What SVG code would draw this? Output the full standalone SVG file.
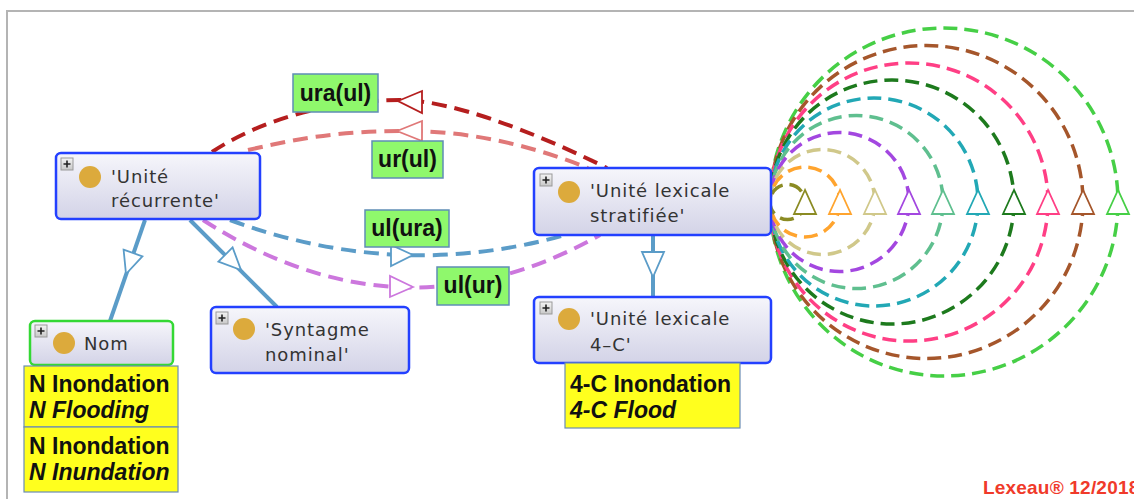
<svg xmlns="http://www.w3.org/2000/svg" width="1134" height="499" viewBox="0 0 1134 499">
<defs>
<linearGradient id="ng" x1="0" y1="0" x2="0" y2="1">
<stop offset="0" stop-color="#f6f6fb"/>
<stop offset="1" stop-color="#d3d3e7"/>
</linearGradient>
<linearGradient id="pg" x1="0" y1="0" x2="0" y2="1">
<stop offset="0" stop-color="#f4f4f4"/>
<stop offset="1" stop-color="#c8c8c8"/>
</linearGradient>
<g id="plus">
<rect x="0" y="0" width="12" height="12" fill="url(#pg)" stroke="#9a9a9a" stroke-width="1"/>
<path d="M2.5 6H9.5M6 2.5V9.5" stroke="#222" stroke-width="1.6"/>
</g>
</defs>
<style>
.frame{stroke:#b4b4b4;stroke-width:2;fill:none}
.node{fill:url(#ng);stroke:#2340ff;stroke-width:2.5}
.nodeg{fill:url(#ng);stroke:#34d834;stroke-width:2.5}
.dot{fill:#dcaa3c}
.nt{font-family:"DejaVu Sans",sans-serif;font-size:18px;letter-spacing:0.9px;fill:#333}
.lab{fill:#8ff86c;stroke:#5f8db5;stroke-width:1.5}
.lt{font-family:"Liberation Sans",Arial,sans-serif;font-size:23px;font-weight:bold;fill:#111;text-anchor:middle}
.yb{fill:#ffff1e;stroke:#6b8db4;stroke-width:1.2}
.yt{font-family:"Liberation Sans",Arial,sans-serif;font-size:23px;font-weight:bold;fill:#111}
.it{font-style:italic}
.inh{stroke:#5b9cc8;stroke-width:4;fill:none}
.inha{stroke:#5b9cc8;stroke-width:1.8;fill:#fff}
.d{fill:none;stroke-width:4;stroke-dasharray:15 8}
.c{fill:none;stroke-width:3.5;stroke-dasharray:14 7}
.ah{fill:#fff;stroke-width:1.8}
.copy{font-family:"Liberation Sans",Arial,sans-serif;font-size:19px;letter-spacing:0.2px;font-weight:bold;fill:#f03a2a}
</style>
<rect width="1134" height="499" fill="#fff"/>
<path class="frame" d="M7 499V11H1134"/>

<g id="connectors">
<circle class="c" cx="944" cy="202" r="174" stroke="#46cf46"/>
<circle class="c" cx="926.5" cy="202" r="156.5" stroke="#a5562b"/>
<circle class="c" cx="909" cy="202" r="139" stroke="#ff3f85"/>
<circle class="c" cx="892" cy="202" r="122" stroke="#1d7a1d"/>
<circle class="c" cx="874" cy="202" r="104" stroke="#22a8b5"/>
<circle class="c" cx="856.5" cy="202" r="86.5" stroke="#5fbf8f"/>
<circle class="c" cx="839.5" cy="202" r="69.5" stroke="#a347e0"/>
<circle class="c" cx="822.5" cy="202" r="52.5" stroke="#d0c88a"/>
<circle class="c" cx="805" cy="202" r="35" stroke="#ffa42e"/>
<circle class="c" cx="787.5" cy="202" r="17.5" stroke="#8b8b23"/>
<polygon class="ah" points="1118,190 1107,214 1129,214" stroke="#46cf46"/>
<polygon class="ah" points="1083,190 1072,214 1094,214" stroke="#a5562b"/>
<polygon class="ah" points="1048,190 1037,214 1059,214" stroke="#ff3f85"/>
<polygon class="ah" points="1014,190 1003,214 1025,214" stroke="#1d7a1d"/>
<polygon class="ah" points="978,190 967,214 989,214" stroke="#22a8b5"/>
<polygon class="ah" points="943,190 932,214 954,214" stroke="#5fbf8f"/>
<polygon class="ah" points="909,190 898,214 920,214" stroke="#a347e0"/>
<polygon class="ah" points="875,190 864,214 886,214" stroke="#d0c88a"/>
<polygon class="ah" points="840,190 829,214 851,214" stroke="#ffa42e"/>
<polygon class="ah" points="805,190 794,214 816,214" stroke="#8b8b23"/>

<path class="d" d="M212 152C260 120 330 100 400 100C450 100 530 130 607 168" stroke="#b51e1e"/>
<path class="d" d="M248 150C300 138 340 131 405 131C470 131 530 145 588 168" stroke="#e07878" stroke-width="3.5"/>
<path class="d" d="M230 220Q398 282 565 235" stroke="#5b9cc8" stroke-width="3.5"/>
<path class="d" d="M203 220Q401 347 600 235" stroke="#cc77dd" stroke-width="3.5"/>
<polygon class="ah" points="398,101 422,91 422,113" stroke="#b51e1e"/>
<polygon class="ah" points="397,131 422,121 422,141" stroke="#e07878"/>
<polygon class="ah" points="413,255 391,245 391,266" stroke="#5b9cc8"/>
<polygon class="ah" points="413,287 390,276 390,297" stroke="#cc77dd"/>

<path class="inh" d="M145 220L110 321"/>
<polygon class="inha" points="123.6,249.7 142.4,256.3 126,274"/>
<path class="inh" d="M190 220L277 307"/>
<polygon class="inha" points="232.6,247.4 218.4,261.6 241,270"/>
<path class="inh" d="M653 235V297"/>
<polygon class="inha" points="642,252 664,252 653,277"/>
</g>

<g id="n-unite-recurrente">
<rect class="node" x="56" y="153" width="204" height="66" rx="5"/>
<use href="#plus" x="61" y="158"/>
<circle class="dot" cx="90" cy="177" r="11"/>
<text class="nt" x="111" y="183">'Unité</text>
<text class="nt" x="111" y="207">récurrente'</text>
</g>

<g id="n-unite-lexicale-stratifiee">
<rect class="node" x="534" y="168" width="237" height="67" rx="5"/>
<use href="#plus" x="540" y="174"/>
<circle class="dot" cx="569" cy="192" r="11"/>
<text class="nt" x="590" y="197">'Unité lexicale</text>
<text class="nt" x="590" y="222">stratifiée'</text>
</g>

<g id="n-unite-lexicale-4c">
<rect class="node" x="534" y="297" width="237" height="66" rx="5"/>
<use href="#plus" x="540" y="302"/>
<circle class="dot" cx="569" cy="319" r="11"/>
<text class="nt" x="590" y="325">'Unité lexicale</text>
<text class="nt" x="590" y="351">4–C'</text>
</g>

<g id="n-4c-note">
<rect class="yb" x="565" y="363" width="175" height="65"/>
<text class="yt" x="570" y="392">4-C Inondation</text>
<text class="yt it" x="570" y="418">4-C Flood</text>
</g>

<g id="n-nom">
<rect class="nodeg" x="30" y="321" width="143" height="44" rx="5"/>
<use href="#plus" x="35" y="325"/>
<circle class="dot" cx="64" cy="343" r="11"/>
<text class="nt" x="84" y="350">Nom</text>
</g>

<g id="n-nom-note1">
<rect class="yb" x="24" y="366" width="154" height="61"/>
<text class="yt" x="29" y="392">N Inondation</text>
<text class="yt it" x="29" y="418">N Flooding</text>
</g>
<g id="n-nom-note2">
<rect class="yb" x="24" y="427" width="154" height="65"/>
<text class="yt" x="29" y="454">N Inondation</text>
<text class="yt it" x="29" y="480">N Inundation</text>
</g>

<g id="n-syntagme-nominal">
<rect class="node" x="211" y="307" width="198" height="66" rx="5"/>
<use href="#plus" x="216" y="312"/>
<circle class="dot" cx="244" cy="329" r="11"/>
<text class="nt" x="265" y="336">'Syntagme</text>
<text class="nt" x="265" y="361">nominal'</text>
</g>

<g id="l-ura-ul">
<rect class="lab" x="293" y="74" width="85" height="38"/>
<text class="lt" x="335.5" y="101">ura(ul)</text>
</g>
<g id="l-ur-ul">
<rect class="lab" x="372" y="141" width="71" height="37"/>
<text class="lt" x="407.5" y="167">ur(ul)</text>
</g>
<g id="l-ul-ura">
<rect class="lab" x="365" y="210" width="84" height="37"/>
<text class="lt" x="407" y="236">ul(ura)</text>
</g>
<g id="l-ul-ur">
<rect class="lab" x="437" y="267" width="72" height="38"/>
<text class="lt" x="473" y="293">ul(ur)</text>
</g>

<text class="copy" x="983" y="494">Lexeau® 12/2018</text>
</svg>
